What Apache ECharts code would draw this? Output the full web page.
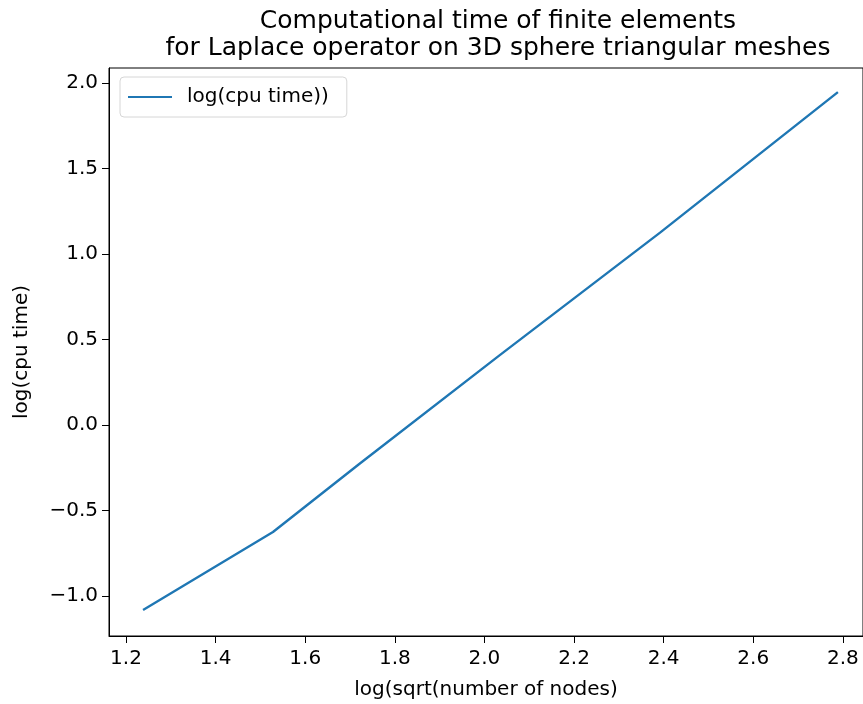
<!DOCTYPE html>
<html>
<head>
<meta charset="utf-8">
<script src="https://cdn.jsdelivr.net/npm/echarts@6/dist/echarts.min.js"></script>
<style>
  html, body { margin: 0; padding: 0; background: #fff; }
  #chart { width: 863px; height: 704px; }
</style>
</head>
<body>
<div id="chart"></div>
<script>
// values
var xValues = [1.238, 1.528, 1.722, 2.035, 2.392, 2.789];
var yValues = [-1.082, -0.626, -0.225, 0.41, 1.125, 1.947];
var xTicks = [1.2, 1.4, 1.6, 1.8, 2.0, 2.2, 2.4, 2.6, 2.8];
var yTicks = [-1.0, -0.5, 0.0, 0.5, 1.0, 1.5, 2.0];

var font = 'DejaVu Sans';
function fmt(v) { return Number(v).toFixed(1).replace('-', '\u2212'); }

var chart = echarts.init(document.getElementById('chart'));

var option = {
    animation: false,
    backgroundColor: '#fff',
    title: {
        text: 'Computational time of finite elements\nfor Laplace operator on 3D sphere triangular meshes',
        left: 493,
        top: 3,
        textAlign: 'center',
        textStyle: { fontFamily: font, fontSize: 25, fontWeight: 'normal', color: '#000', lineHeight: 27 }
    },
    legend: {
        left: 120,
        top: 77,
        data: ['log(cpu time))'],
        icon: 'rect',
        itemWidth: 44,
        itemHeight: 2,
        padding: [10, 18, 10, 8],
        borderColor: '#d6d6d6',
        borderWidth: 1,
        borderRadius: 4,
        textStyle: { fontFamily: font, fontSize: 20, color: '#000', padding: [0, 0, 0, 10] }
    },
    grid: {
        left: 109,
        right: 0,
        top: 68,
        bottom: 68,
        containLabel: false,
        outerBoundsMode: 'none',
        show: true,
        borderColor: '#000',
        borderWidth: 1
    },
    xAxis: {
        type: 'value',
        min: 1.162,
        max: 2.845,
        name: 'log(sqrt(number of nodes)',
        nameLocation: 'middle',
        nameGap: 44,
        nameTextStyle: { fontFamily: font, fontSize: 20, color: '#000' },
        axisLine: { onZero: false, lineStyle: { color: '#000', width: 1 } },
        axisTick: { show: true, inside: false, length: 7, lineStyle: { color: '#000' }, customValues: xTicks },
        axisLabel: { fontFamily: font, fontSize: 20, color: '#000', margin: 13, formatter: fmt, customValues: xTicks },
        splitLine: { show: false }
    },
    yAxis: {
        type: 'value',
        min: -1.234,
        max: 2.088,
        name: 'log(cpu time)',
        nameLocation: 'middle',
        nameGap: 77,
        nameRotate: 90,
        nameTextStyle: { fontFamily: font, fontSize: 20, color: '#000' },
        axisLine: { show: true, onZero: false, lineStyle: { color: '#000', width: 1 } },
        axisTick: { show: true, inside: false, length: 7, lineStyle: { color: '#000' }, customValues: yTicks },
        axisLabel: { fontFamily: font, fontSize: 20, color: '#000', margin: 11, formatter: fmt, customValues: yTicks },
        splitLine: { show: false }
    },
    series: [{
        name: 'log(cpu time))',
        type: 'line',
        data: xValues.map(function (x, i) { return [x, yValues[i]]; }),
        showSymbol: false,
        symbol: 'none',
        lineStyle: { color: '#1f77b4', width: 2.4 },
        itemStyle: { color: '#1f77b4' }
    }]
};

chart.setOption(option);
</script>
</body>
</html>
